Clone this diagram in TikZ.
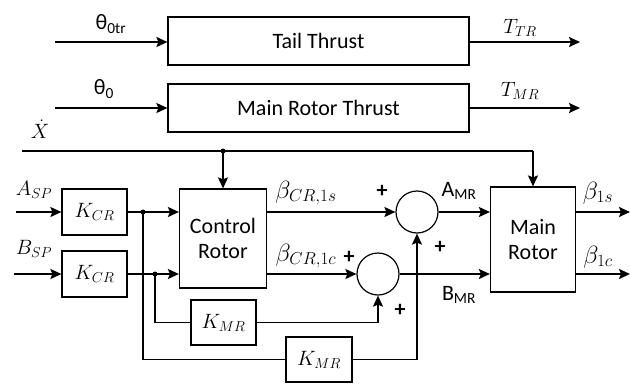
\documentclass[tikz,border=0pt]{standalone}
\usepackage{fontspec}
\setmainfont{Carlito}
\usetikzlibrary{arrows.meta}
\begin{document}
\begin{tikzpicture}[x=1pt,y=-1pt,
  font=\fontsize{22}{25}\selectfont,
  blk/.style={draw,line width=1.2pt,inner sep=0pt,align=center},
  kfont/.style={font=\fontsize{20}{24}\selectfont},
  sumc/.style={draw,line width=1.2pt,circle,minimum size=42pt,inner sep=0pt},
  conn/.style={line width=1.8pt},
  arr/.style={conn,-{Stealth[length=11pt,width=10pt,inset=2pt]}},
  jdot/.style={circle,fill,inner sep=0pt,minimum size=5pt},
  lbl/.style={inner sep=0pt},
  blbl/.style={inner sep=0pt,font=\fontsize{24}{28}\selectfont},
  plus/.style={inner sep=0pt,font=\fontsize{22}{24}\selectfont\bfseries}]
\useasboundingbox (0,0) rectangle (630,386);
% blocks
\node[blk,minimum width=301pt,minimum height=48pt] (tt) at (318.5,41) {Tail Thrust};
\node[blk,minimum width=301pt,minimum height=48pt] (mrt) at (318.5,108) {Main Rotor Thrust};
\node[blk,kfont,minimum width=65pt,minimum height=46pt] (kcr1) at (94.5,212) {$K_{CR}$};
\node[blk,kfont,minimum width=65pt,minimum height=46pt] (kcr2) at (94.5,274) {$K_{CR}$};
\node[blk,minimum width=87pt,minimum height=99pt] (cr) at (223,238.5) {Control\\Rotor};
\node[blk,kfont,minimum width=65pt,minimum height=45pt] (kmr1) at (223.5,322.5) {$K_{MR}$};
\node[blk,kfont,minimum width=66pt,minimum height=45pt] (kmr2) at (319,359.5) {$K_{MR}$};
\node[sumc] (s1) at (417,212) {};
\node[sumc] (s2) at (378,274) {};
\node[blk,minimum width=85pt,minimum height=105pt] (mr) at (533,239.5) {Main\\Rotor};
% free-end coordinates
\coordinate (tin) at (55,42);
\coordinate (tout) at (580,42);
\coordinate (min) at (55,108);
\coordinate (mout) at (580,108);
\coordinate (xs) at (22,151);
\coordinate (j0) at (223,151);
\coordinate (xe) at (533,151);
\coordinate (ain) at (16,212);
\coordinate (bin) at (14,274);
\coordinate (d1) at (143,212);
\coordinate (d2) at (155,274);
\coordinate (o1) at (630,212);
\coordinate (o2) at (630,274);
% top rows
\draw[arr] (tin) -- (tin -| tt.west);
\draw[arr] (tin -| tt.east) -- (tout);
\draw[arr] (min) -- (min -| mrt.west);
\draw[arr] (min -| mrt.east) -- (mout);
% X dot line
\draw[line width=1.4pt] (xs) -- (xe);
\draw[arr] (j0) -- (cr.north);
\draw[arr] (xe) -- (mr.north);
\node[jdot] at (j0) {};
% inputs
\draw[arr] (ain) -- (kcr1.west);
\draw[arr] (bin) -- (kcr2.west);
\draw[arr] (kcr1.east) -- (kcr1.east -| cr.west);
\draw[arr] (kcr2.east) -- (kcr2.east -| cr.west);
\node[jdot] at (d1) {};
\node[jdot] at (d2) {};
% feedforward through K_MR
\draw[conn] (d1) |- (kmr2.west);
\draw[conn] (d2) |- (kmr1.west);
\draw[conn] (kmr1.east) -| (s2.south |- kmr1.east);
\draw[arr] (s2.south |- kmr1.east) -- (s2.south);
\draw[conn] (kmr2.east) -| (s1.south |- kmr2.east);
\draw[arr] (s1.south |- kmr2.east) -- (s1.south);
% control rotor outputs
\draw[arr] (cr.east |- s1) -- (s1.west);
\draw[arr] (cr.east |- s2) -- (s2.west);
\draw[arr] (s1.east) -- (s1.east -| mr.west);
\draw[arr] (s2.east) -- (s2.east -| mr.west);
\draw[arr] (mr.east |- o1) -- (o1);
\draw[arr] (mr.east |- o2) -- (o2);
% labels
\node[lbl] (lt) at (111,24) {θ\textsubscript{0tr}};
\node[lbl] (lm) at (104,89) {θ\textsubscript{0}};
\node[lbl] (ltt) at (520,28) {$T_{TR}$};
\node[lbl] (ltm) at (520,91) {$T_{MR}$};
\node[lbl] (lx) at (40,129) {$\dot{X}$};
\node[lbl] (la) at (34,190) {$A_{SP}$};
\node[lbl] (lb) at (34,249) {$B_{SP}$};
\node[blbl] (lb1) at (306,193) {$\beta_{CR,1s}$};
\node[blbl] (lb2) at (306,256) {$\beta_{CR,1c}$};
\node[plus] (p1) at (382,191) {+};
\node[plus] (p2) at (349,257) {+};
\node[plus] (p3) at (440,247) {+};
\node[plus] (p4) at (400,310) {+};
\node[lbl] (lam) at (459,191) {A\textsubscript{MR}};
\node[lbl] (lbm) at (459,295) {B\textsubscript{MR}};
\node[blbl] (lo1) at (598,193) {$\beta_{1s}$};
\node[blbl] (lo2) at (598,257) {$\beta_{1c}$};
\end{tikzpicture}
\end{document}
